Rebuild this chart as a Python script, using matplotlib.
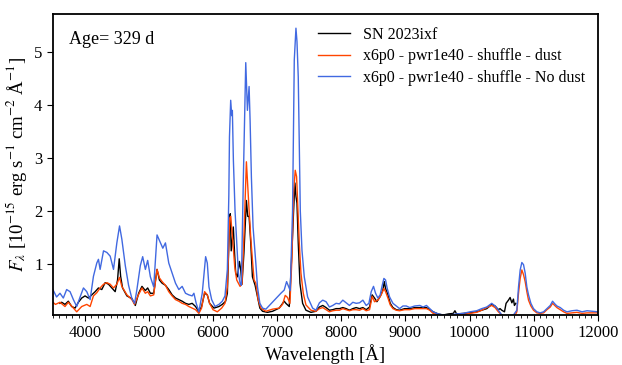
import matplotlib
matplotlib.use('Agg')
import matplotlib.pyplot as plt
from matplotlib.ticker import MultipleLocator
import numpy as np

# spectra (wavelength in Angstrom, flux in 1e-15 erg/s/cm2/A)
wave_obs = [3611, 3637, 3689, 3741, 3793, 3846, 3898, 3950, 4002, 4055, 4107, 4160, 4211, 4263,
            4316, 4368, 4420, 4472, 4509, 4535, 4557, 4587, 4655, 4733, 4786, 4838, 4890, 4942,
            4979, 5021, 5073, 5125, 5162, 5204, 5256, 5308, 5360, 5413, 5465, 5517, 5569, 5621,
            5673, 5726, 5778, 5820, 5867, 5909, 5945, 6013, 6091, 6143, 6195, 6222, 6258, 6268,
            6282, 6300, 6315, 6335, 6352, 6380, 6410, 6430, 6450, 6480, 6519, 6540, 6561, 6587,
            6613, 6655, 6692, 6729, 6771, 6849, 6927, 7031, 7109, 7135, 7188, 7224, 7255, 7276,
            7292, 7308, 7328, 7354, 7396, 7448, 7526, 7604, 7658, 7710, 7762, 7814, 7866, 7918,
            7971, 8023, 8075, 8127, 8179, 8232, 8284, 8336, 8388, 8440, 8481, 8518, 8555, 8606,
            8648, 8670, 8690, 8727, 8763, 8805, 8857, 8909, 8987, 9067, 9145, 9224, 9328, 9380,
            9432, 9510, 9589, 9668, 9746, 9772, 9798, 9902, 10007, 10111, 10190, 10268, 10346,
            10398, 10450, 10476, 10503, 10545, 10570, 10607, 10633, 10660, 10685, 10700, 10722]
flux_obs = [0.26, 0.28, 0.24, 0.30, 0.20, 0.17, 0.28, 0.36, 0.40, 0.36, 0.42, 0.48, 0.55, 0.52,
            0.65, 0.62, 0.55, 0.48, 0.70, 1.10, 0.77, 0.55, 0.40, 0.35, 0.22, 0.45, 0.58, 0.50,
            0.55, 0.45, 0.45, 0.90, 0.70, 0.64, 0.60, 0.52, 0.42, 0.36, 0.33, 0.30, 0.26, 0.24,
            0.26, 0.20, 0.10, 0.20, 0.45, 0.42, 0.26, 0.17, 0.20, 0.24, 0.30, 0.45, 1.90, 1.95,
            1.25, 1.45, 1.70, 1.20, 0.83, 0.76, 1.05, 0.90, 0.62, 1.20, 2.20, 1.90, 1.90, 1.40,
            0.76, 0.60, 0.38, 0.17, 0.11, 0.09, 0.11, 0.17, 0.30, 0.26, 0.20, 1.10, 2.00, 2.53,
            2.28, 2.15, 1.40, 0.64, 0.26, 0.13, 0.09, 0.11, 0.19, 0.22, 0.18, 0.13, 0.14, 0.16,
            0.16, 0.18, 0.16, 0.13, 0.16, 0.18, 0.16, 0.18, 0.14, 0.19, 0.42, 0.36, 0.29, 0.39,
            0.51, 0.67, 0.54, 0.42, 0.26, 0.18, 0.14, 0.13, 0.16, 0.16, 0.18, 0.18, 0.18, 0.14,
            0.10, 0.06, 0.04, 0.06, 0.07, 0.12, 0.06, 0.07, 0.08, 0.10, 0.13, 0.16, 0.24,
            0.21, 0.14, 0.16, 0.13, 0.10, 0.26, 0.32, 0.37, 0.27, 0.34, 0.22, 0.26]

wave_dust = [3500, 3540, 3611, 3689, 3741, 3820, 3872, 3950, 4029, 4081, 4133, 4185, 4237, 4290,
             4342, 4394, 4446, 4498, 4540, 4576, 4655, 4733, 4775, 4827, 4890, 4942, 4979, 5021,
             5073, 5125, 5162, 5204, 5256, 5308, 5360, 5413, 5465, 5517, 5569, 5621, 5673, 5726,
             5778, 5820, 5867, 5909, 5945, 5998, 6065, 6133, 6185, 6222, 6258, 6274, 6305, 6337,
             6368, 6420, 6450, 6480, 6519, 6561, 6587, 6613, 6639, 6666, 6702, 6744, 6823, 6927,
             7031, 7083, 7125, 7161, 7198, 7229, 7255, 7281, 7302, 7323, 7344, 7370, 7406, 7448,
             7526, 7604, 7658, 7710, 7762, 7814, 7866, 7918, 7971, 8023, 8075, 8127, 8179, 8232,
             8284, 8336, 8388, 8440, 8481, 8518, 8570, 8622, 8664, 8690, 8727, 8763, 8805, 8857,
             8909, 8987, 9067, 9145, 9224, 9328, 9380, 9432, 9510, 9589, 9693, 9798, 9902, 10007,
             10111, 10190, 10268, 10346, 10398, 10450, 10503, 10555, 10700, 10738, 10764, 10790,
             10816, 10842, 10868, 10894, 10920, 10957, 10998, 11050, 11102, 11155, 11207, 11259,
             11295, 11330, 11363, 11415, 11467, 11520, 11598, 11676, 11755, 11833, 11911, 12000]
flux_dust = [0.28, 0.24, 0.28, 0.20, 0.28, 0.17, 0.10, 0.20, 0.24, 0.20, 0.40, 0.46, 0.55, 0.62,
             0.65, 0.62, 0.55, 0.62, 0.75, 0.58, 0.42, 0.33, 0.24, 0.40, 0.55, 0.45, 0.48, 0.40,
             0.42, 0.90, 0.74, 0.67, 0.60, 0.48, 0.40, 0.33, 0.30, 0.26, 0.24, 0.20, 0.17, 0.14,
             0.07, 0.17, 0.48, 0.42, 0.26, 0.14, 0.10, 0.17, 0.26, 0.57, 1.87, 1.90, 1.46, 0.95,
             0.70, 0.58, 0.62, 1.50, 2.93, 2.02, 1.50, 1.08, 0.70, 0.64, 0.33, 0.17, 0.11, 0.15,
             0.17, 0.24, 0.41, 0.37, 0.26, 1.10, 2.34, 2.77, 2.65, 2.00, 1.40, 0.83, 0.45, 0.23,
             0.13, 0.11, 0.16, 0.18, 0.14, 0.10, 0.12, 0.13, 0.13, 0.16, 0.14, 0.12, 0.14, 0.14,
             0.13, 0.16, 0.12, 0.14, 0.39, 0.29, 0.32, 0.42, 0.54, 0.48, 0.36, 0.23, 0.16, 0.13,
             0.12, 0.14, 0.14, 0.16, 0.16, 0.16, 0.13, 0.07, 0.04, 0.02, 0.02, 0.03, 0.05, 0.07,
             0.09, 0.13, 0.18, 0.22, 0.18, 0.10, 0.04, 0.01, 0.01, 0.10, 0.45, 0.73,
             0.89, 0.80, 0.67, 0.48, 0.32, 0.21, 0.13, 0.08, 0.07, 0.08, 0.14, 0.19,
             0.26, 0.22, 0.18, 0.14, 0.10, 0.07, 0.08, 0.09, 0.07, 0.08, 0.08, 0.08]

wave_nodust = [3500, 3558, 3611, 3663, 3715, 3768, 3820, 3872, 3925, 3977, 4029, 4081, 4133, 4185,
               4211, 4237, 4290, 4342, 4394, 4446, 4498, 4540, 4576, 4630, 4681, 4733, 4775, 4811,
               4864, 4901, 4943, 4979, 5021, 5073, 5125, 5178, 5215, 5256, 5308, 5360, 5413, 5465,
               5517, 5569, 5621, 5673, 5700, 5736, 5778, 5830, 5883, 5909, 5935, 5977, 6029, 6091,
               6143, 6185, 6222, 6245, 6255, 6274, 6290, 6300, 6316, 6342, 6368, 6394, 6420, 6440,
               6472, 6509, 6535, 6561, 6577, 6597, 6623, 6666, 6692, 6729, 6771, 6823, 6901, 6979,
               7057, 7109, 7146, 7177, 7203, 7239, 7266, 7292, 7308, 7328, 7344, 7360, 7386, 7422,
               7474, 7552, 7604, 7658, 7710, 7762, 7814, 7866, 7918, 7971, 8023, 8075, 8127, 8179,
               8232, 8284, 8336, 8388, 8430, 8466, 8502, 8534, 8570, 8606, 8638, 8664, 8690, 8716,
               8753, 8805, 8857, 8909, 8961, 9013, 9067, 9145, 9224, 9276, 9328, 9380, 9432, 9510,
               9589, 9693, 9798, 9902, 10007, 10111, 10190, 10268, 10346, 10398, 10450, 10503,
               10555, 10685, 10738, 10764, 10790, 10816, 10842, 10868, 10894, 10920, 10957, 10998,
               11050, 11102, 11155, 11207, 11259, 11295, 11330, 11363, 11415, 11467, 11520, 11598,
               11676, 11755, 11833, 11911, 12000]
flux_nodust = [0.52, 0.38, 0.45, 0.36, 0.52, 0.48, 0.33, 0.20, 0.38, 0.55, 0.48, 0.33, 0.77, 1.02,
               1.09, 0.90, 1.25, 1.22, 1.15, 0.90, 1.40, 1.72, 1.47, 0.97, 0.60, 0.35, 0.26, 0.52,
               0.97, 1.14, 0.90, 1.07, 0.76, 0.57, 1.55, 1.40, 1.30, 1.40, 1.02, 0.83, 0.64, 0.52,
               0.58, 0.45, 0.42, 0.40, 0.45, 0.26, 0.10, 0.45, 1.14, 1.02, 0.57, 0.33, 0.20, 0.24,
               0.30, 0.40, 0.90, 2.30, 3.40, 4.09, 3.80, 3.90, 2.96, 2.00, 1.40, 0.83, 0.64, 0.60,
               2.64, 4.80, 3.90, 4.35, 3.70, 2.64, 1.70, 1.02, 0.57, 0.26, 0.17, 0.15, 0.25, 0.35,
               0.45, 0.51, 0.67, 0.58, 0.50, 2.00, 4.85, 5.45, 5.20, 4.53, 3.28, 2.00, 1.26, 0.76,
               0.38, 0.17, 0.13, 0.27, 0.32, 0.29, 0.19, 0.22, 0.26, 0.25, 0.32, 0.27, 0.22, 0.28,
               0.26, 0.27, 0.32, 0.22, 0.26, 0.48, 0.58, 0.45, 0.36, 0.42, 0.60, 0.73, 0.70, 0.54,
               0.38, 0.26, 0.21, 0.16, 0.21, 0.21, 0.18, 0.21, 0.22, 0.19, 0.22, 0.16, 0.10, 0.06,
               0.04, 0.04, 0.06, 0.07, 0.10, 0.12, 0.16, 0.19, 0.26, 0.21, 0.13, 0.04,
               0.02, 0.04, 0.13, 0.57, 0.89, 1.03, 0.99, 0.83, 0.57, 0.42, 0.26, 0.16,
               0.10, 0.08, 0.10, 0.16, 0.22, 0.30, 0.25, 0.21, 0.18, 0.13, 0.10, 0.12,
               0.13, 0.10, 0.12, 0.11, 0.10]

labels = ['SN 2023ixf', 'x6p0 - pwr1e40 - shuffle - dust', 'x6p0 - pwr1e40 - shuffle - No dust']
colors = ['black', 'orangered', 'royalblue']

plt.rcParams['font.family'] = 'Liberation Serif'
plt.rcParams['mathtext.fontset'] = 'stix'

fig = plt.figure(figsize=(6.22, 3.65), dpi=100)
ax = fig.add_axes([0.085, 0.137, 0.876, 0.825])

ax.plot(wave_obs, flux_obs, color=colors[0], lw=1.0, label=labels[0])
ax.plot(wave_dust, flux_dust, color=colors[1], lw=1.0, label=labels[1])
ax.plot(wave_nodust, flux_nodust, color=colors[2], lw=1.0, label=labels[2])

ax.set_xlim(3500, 12000)
ax.set_ylim(0.04, 5.72)
ax.xaxis.set_minor_locator(MultipleLocator(100))
ax.set_yticks([1, 2, 3, 4, 5])
ax.tick_params(which='major', direction='out', length=4, width=0.8, labelsize=12)
ax.tick_params(which='minor', direction='out', length=2, width=0.6)
for s in ax.spines.values():
    s.set_linewidth(1.3)

ax.set_xlabel('Wavelength [Å]', fontsize=13.5, labelpad=2)
ax.set_ylabel(r'$F_\lambda$ [10$^{-15}$ erg s$^{-1}$ cm$^{-2}$ Å$^{-1}$]', fontsize=13.5, labelpad=4)
ax.text(0.03, 0.915, 'Age= 329 d', transform=ax.transAxes, fontsize=13, va='center')

ax.legend(loc='upper right', frameon=False, fontsize=11.5, handlelength=2.0,
          borderaxespad=0.4, labelspacing=0.35)

fig.savefig('out.png', dpi=100)
